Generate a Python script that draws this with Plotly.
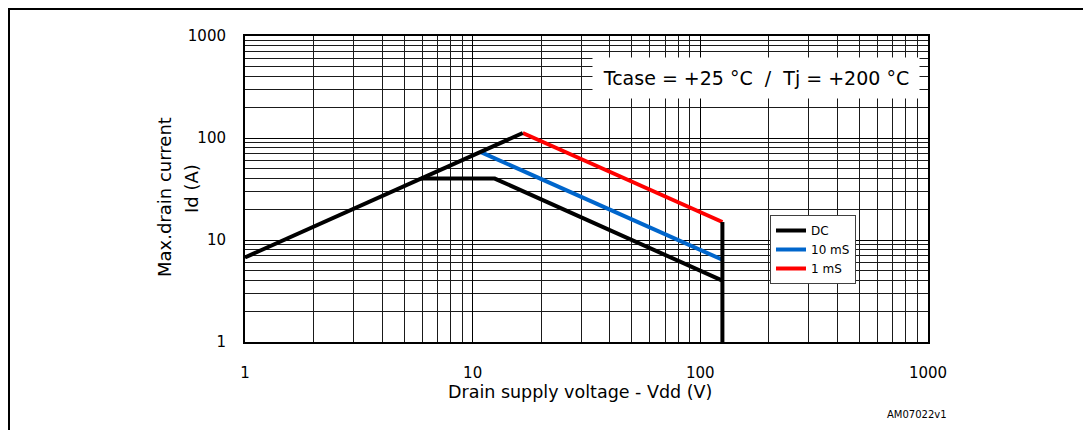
import plotly.graph_objects as go

# ---- data ----
dc_vdd = [1, 16.6, None, 5.93, 12.5, 125, None, 125, 125]
dc_id = [6.75, 112, None, 40, 40, 4, None, 15, 1]
ms10_vdd = [10.8, 125]
ms10_id = [73, 6.4]
ms1_vdd = [16.6, 125]
ms1_id = [112, 15]

tick_vals = [1, 10, 100, 1000]
tick_text = ["1", "10", "100", "1000"]

FONT = "DejaVu Sans"
OFF = 8  # page body margin
W, H = 1091 - OFF, 430 - OFF
L, R, T, B = 245 - OFF, 928 - OFF, 36 - OFF, 342 - OFF  # plot area in px (figure coords)


def px(xp):  # reference screen px -> paper
    return (xp - OFF - L) / (R - L)


def py(yp):
    return (B - (yp - OFF)) / (B - T)


fig = go.Figure()
fig.add_trace(go.Scatter(x=ms1_vdd, y=ms1_id, mode="lines", name="1 mS",
                         line=dict(color="#FF0000", width=4), legendrank=3))
fig.add_trace(go.Scatter(x=ms10_vdd, y=ms10_id, mode="lines", name="10 mS",
                         line=dict(color="#0066CC", width=4), legendrank=2))
fig.add_trace(go.Scatter(x=dc_vdd, y=dc_id, mode="lines", name="DC",
                         line=dict(color="#000000", width=4), legendrank=1,
                         connectgaps=False))

axis_common = dict(
    type="log", range=[0, 3], tickvals=tick_vals, ticktext=tick_text,
    showline=True, mirror=True, linecolor="black", linewidth=2,
    showgrid=True, gridcolor="#000000", gridwidth=1,
    minor=dict(dtick="D1", showgrid=True, gridcolor="#1a1a1a", gridwidth=1, ticks=""),
    ticks="", tickfont=dict(family=FONT, size=15, color="black"),
    zeroline=False,
)

fig.update_layout(
    width=W, height=H,
    margin=dict(l=L, r=W - R, t=T, b=H - B),
    paper_bgcolor="white", plot_bgcolor="white",
    font=dict(family=FONT, color="black"),
    xaxis=dict(axis_common, ticklabelstandoff=16),
    yaxis=dict(axis_common, ticklabelstandoff=14),
    legend=dict(x=px(770), y=py(215), xanchor="left", yanchor="top",
                bgcolor="white", bordercolor="#404040", borderwidth=1,
                font=dict(family=FONT, size=12, color="black"),
                itemwidth=30, tracegroupgap=0),
    showlegend=True,
)

# axis titles
fig.add_annotation(xref="paper", yref="paper", x=px(580), y=py(392),
                   text="Drain supply voltage - Vdd (V)", showarrow=False,
                   font=dict(family=FONT, size=17.5, color="black"),
                   xanchor="center", yanchor="middle")
fig.add_annotation(xref="paper", yref="paper", x=px(164), y=py(197),
                   text="Max.drain current", showarrow=False, textangle=-90,
                   font=dict(family=FONT, size=18, color="black"),
                   xanchor="center", yanchor="middle")
fig.add_annotation(xref="paper", yref="paper", x=px(191), y=py(189),
                   text="Id (A)", showarrow=False, textangle=-90,
                   font=dict(family=FONT, size=18, color="black"),
                   xanchor="center", yanchor="middle")

fig.add_annotation(
    xref="paper", yref="paper", x=px(756), y=py(78),
    text="Tcase = +25 °C  /  Tj = +200 °C", showarrow=False,
    font=dict(family=FONT, size=19, color="black"),
    bgcolor="white", width=324, height=38, xanchor="center", yanchor="middle",
)
fig.add_annotation(
    xref="paper", yref="paper", x=px(917), y=py(414),
    text="AM07022v1", showarrow=False,
    font=dict(family=FONT, size=10, color="black"),
    xanchor="center", yanchor="middle",
)
# outer frame (as close to the page edge as the body margin allows)
fig.add_shape(type="rect", xref="paper", yref="paper",
              x0=px(9), x1=px(1089), y0=py(9), y1=py(445),
              line=dict(color="black", width=2), fillcolor="rgba(0,0,0,0)",
              layer="above")

fig.write_html("out.html")
